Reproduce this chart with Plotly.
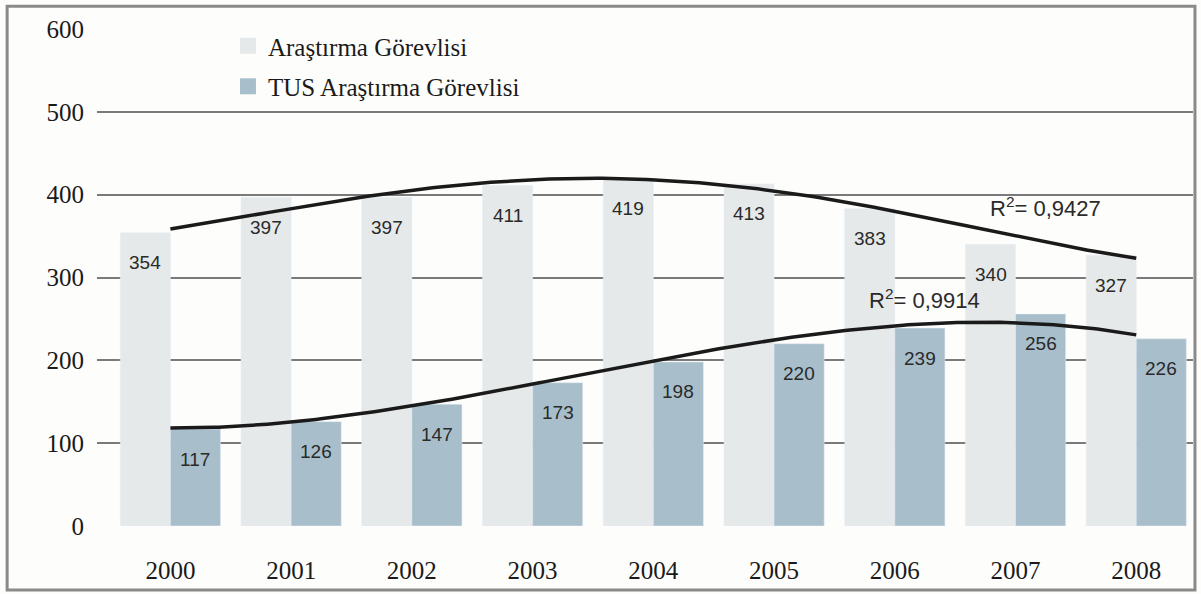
import numpy as np
import plotly.graph_objects as go

years = [2000, 2001, 2002, 2003, 2004, 2005, 2006, 2007, 2008]
arastirma = [354, 397, 397, 411, 419, 413, 383, 340, 327]
tus = [117, 126, 147, 173, 198, 220, 239, 256, 226]
series_names = ["Araştırma Görevlisi", "TUS Araştırma Görevlisi"]
trend_orders = [4, 3]
r2_labels = ["R<sup>2</sup>= 0,9427", "R<sup>2</sup>= 0,9914"]
y_ticks = [0, 100, 200, 300, 400, 500, 600]

GRAY = "#E6E9E9"
BLUE = "#A8BFCB"
COLORS = [GRAY, BLUE]
LABEL_FONT = dict(family="Liberation Sans, Arial", size=19, color="#2a2a2a")
R2_FONT = dict(family="Liberation Sans, Arial", size=22, color="#2a2a2a")

fig = go.Figure()
for name, vals, col in zip(series_names, (arastirma, tus), COLORS):
    fig.add_trace(go.Bar(x=years, y=vals, name=name, marker_color=col,
                         showlegend=False, hoverinfo="skip"))

xs_idx = np.arange(1, len(years) + 1)
for vals, deg in zip((arastirma, tus), trend_orders):
    c = np.polyfit(xs_idx, vals, deg)
    xd = np.linspace(1, len(years), 200)
    fig.add_trace(go.Scatter(x=xd + years[0] - 1, y=np.polyval(c, xd), mode="lines",
                             line=dict(color="#1a1a1a", width=3.5), showlegend=False,
                             hoverinfo="skip"))

# legend entries (larger square swatches like the original)
for i, (name, col) in enumerate(zip(series_names, COLORS)):
    fig.add_trace(go.Scatter(x=[None], y=[None], mode="markers", name=name,
                             marker=dict(symbol="square", size=18, color=col),
                             legendgroup=f"g{i}", showlegend=True))

ann = []
for yr, v in zip(years, arastirma):
    ann.append(dict(x=yr, y=v, xshift=-25, yshift=-30, text=str(v), showarrow=False,
                    font=LABEL_FONT))
for yr, v in zip(years, tus):
    ann.append(dict(x=yr, y=v, xshift=25, yshift=-30, text=str(v), showarrow=False,
                    font=LABEL_FONT))
ann.append(dict(x=2007.25, y=385, text=r2_labels[0], showarrow=False, xanchor="center",
                font=R2_FONT))
ann.append(dict(x=2006.25, y=274, text=r2_labels[1], showarrow=False, xanchor="center",
                font=R2_FONT))

fig.update_layout(
    width=1201, height=594,
    margin=dict(l=97, r=8, t=29, b=68),
    paper_bgcolor="#FDFDFB", plot_bgcolor="#FDFDFB",
    barmode="group", bargap=0.17, bargroupgap=0,
    font=dict(family="Liberation Serif, Times New Roman", size=22, color="#1a1a1a"),
    showlegend=True,
    legend=dict(x=0.1195, y=1.012, xanchor="left", yanchor="top", traceorder="grouped",
                tracegroupgap=5, bgcolor="rgba(0,0,0,0)",
                font=dict(family="Liberation Serif, Times New Roman", size=25, color="#1a1a1a")),
    annotations=ann,
    shapes=[dict(type="rect", xref="paper", yref="paper", x0=-0.082, x1=1.0018,
                 y0=-0.129, y1=1.046, line=dict(color="#8a8a8a", width=3), layer="above")],
)
fig.update_xaxes(range=[1999.392, 2008.47], tickvals=years, ticktext=[str(y) for y in years],
                 showgrid=False, zeroline=False, showline=False, ticks="",
                 ticklabelstandoff=27, tickfont=dict(size=25))
fig.update_yaxes(range=[0, 600], tickvals=y_ticks, showgrid=True, gridcolor="#7a7a7a",
                 gridwidth=2, zeroline=False, showline=False, ticks="",
                 ticklabelstandoff=12, tickfont=dict(size=25))

fig.write_html("out.html", config={"displayModeBar": False},
               post_script="document.body.style.margin='0';")
